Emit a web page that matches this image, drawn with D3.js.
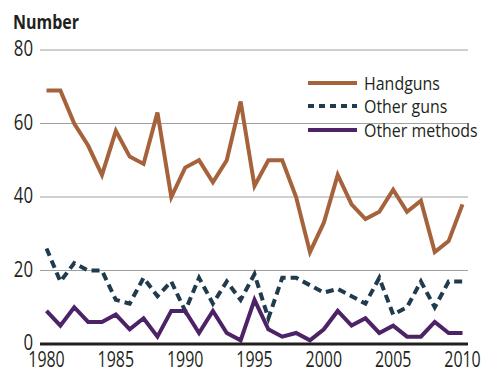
<!DOCTYPE html>
<html>
<head>
<meta charset="utf-8">
<script src="https://cdn.jsdelivr.net/npm/d3@7"></script>
<style>
  html, body { margin: 0; padding: 0; background: #fff; }
  svg { display: block; font-family: "Open Sans", sans-serif; }
</style>
</head>
<body>
<svg id="chart" width="488" height="370"></svg>
<script>
// Yearly counts, 1980–2010
const years = d3.range(1980, 2011);
const handguns = [69, 69, 60, 54, 46, 58, 51, 49, 63, 40, 48, 50, 44, 50, 66, 43, 50, 50, 40, 25, 33, 46, 38, 34, 36, 42, 36, 39, 25, 28, 38];
const otherGuns = [26, 17, 22, 20, 20, 12, 11, 18, 13, 17, 9, 18, 11, 17, 12, 19, 7, 18, 18, 16, 14, 15, 13, 11, 18, 8, 10, 17, 10, 17, 17];
const otherMethods = [9, 5, 10, 6, 6, 8, 4, 7, 2, 9, 9, 3, 9, 3, 1, 12, 4, 2, 3, 1, 4, 9, 5, 7, 3, 5, 2, 2, 6, 3, 3];
const yTicks = [0, 20, 40, 60, 80];
const xTicks = [1980, 1985, 1990, 1995, 2000, 2005, 2010];

const seriesList = [
  { name: "Handguns", values: handguns, color: "#a6623a", dash: null },
  { name: "Other guns", values: otherGuns, color: "#1f3b4d", dash: "8,5" },
  { name: "Other methods", values: otherMethods, color: "#4e2266", dash: null }
];

const svg = d3.select("#chart");
const x = d3.scaleLinear().domain([1980, 2010]).range([46.5, 462.5]);
const y = d3.scaleLinear().domain([0, 80]).range([344, 50]);
const gridLeft = 40, gridRight = 468;

// Places a horizontally condensed label at (px, py)
function label(parent, px, py, str, opts) {
  return parent.append("text")
    .attr("transform", `translate(${px},${py}) scale(${opts.squeeze || 0.8},1)`)
    .attr("text-anchor", opts.anchor || "start")
    .attr("dy", opts.dy || null)
    .attr("font-size", opts.size)
    .attr("font-weight", opts.weight || null)
    .attr("fill", "#231f20")
    .text(str);
}

// Horizontal gridlines
svg.append("g")
  .selectAll("line")
  .data(yTicks.filter(d => d > 0))
  .join("line")
  .attr("x1", gridLeft).attr("x2", gridRight)
  .attr("y1", d => y(d)).attr("y2", d => y(d))
  .attr("stroke", "#a0a0a0").attr("stroke-width", 1);

// Y tick labels
const yAxisG = svg.append("g");
yTicks.forEach(t => label(yAxisG, 33, y(t), t, { anchor: "end", dy: "0.3em", size: 21, squeeze: 0.8 }));

// X tick labels
const xAxisG = svg.append("g");
xTicks.forEach(t => label(xAxisG, x(t), 367, t, { anchor: "middle", size: 21, squeeze: 0.76 }));

// Axis title
label(svg, 13, 29, "Number", { size: 20, weight: "bold", squeeze: 0.8 });

// Series lines
const line = d3.line()
  .x((d, i) => x(years[i]))
  .y(d => y(d));

seriesList.forEach(s => {
  svg.append("path")
    .datum(s.values)
    .attr("d", line)
    .attr("fill", "none")
    .attr("stroke", s.color)
    .attr("stroke-width", 4)
    .attr("stroke-linejoin", "miter")
    .attr("stroke-dasharray", s.dash);
});

// Baseline
svg.append("line")
  .attr("x1", gridLeft).attr("x2", gridRight)
  .attr("y1", y(0)).attr("y2", y(0))
  .attr("stroke", "#231f20").attr("stroke-width", 3);

// Legend
const legend = svg.append("g");
const legendY = [83, 106, 130];
seriesList.forEach((s, i) => {
  legend.append("line")
    .attr("x1", 308).attr("x2", 357)
    .attr("y1", legendY[i]).attr("y2", legendY[i])
    .attr("stroke", s.color)
    .attr("stroke-width", 4)
    .attr("stroke-dasharray", s.dash ? "6,5" : null);
  label(legend, 364, legendY[i], s.name, { dy: "0.36em", size: 19, squeeze: 0.84 });
});
</script>
</body>
</html>
